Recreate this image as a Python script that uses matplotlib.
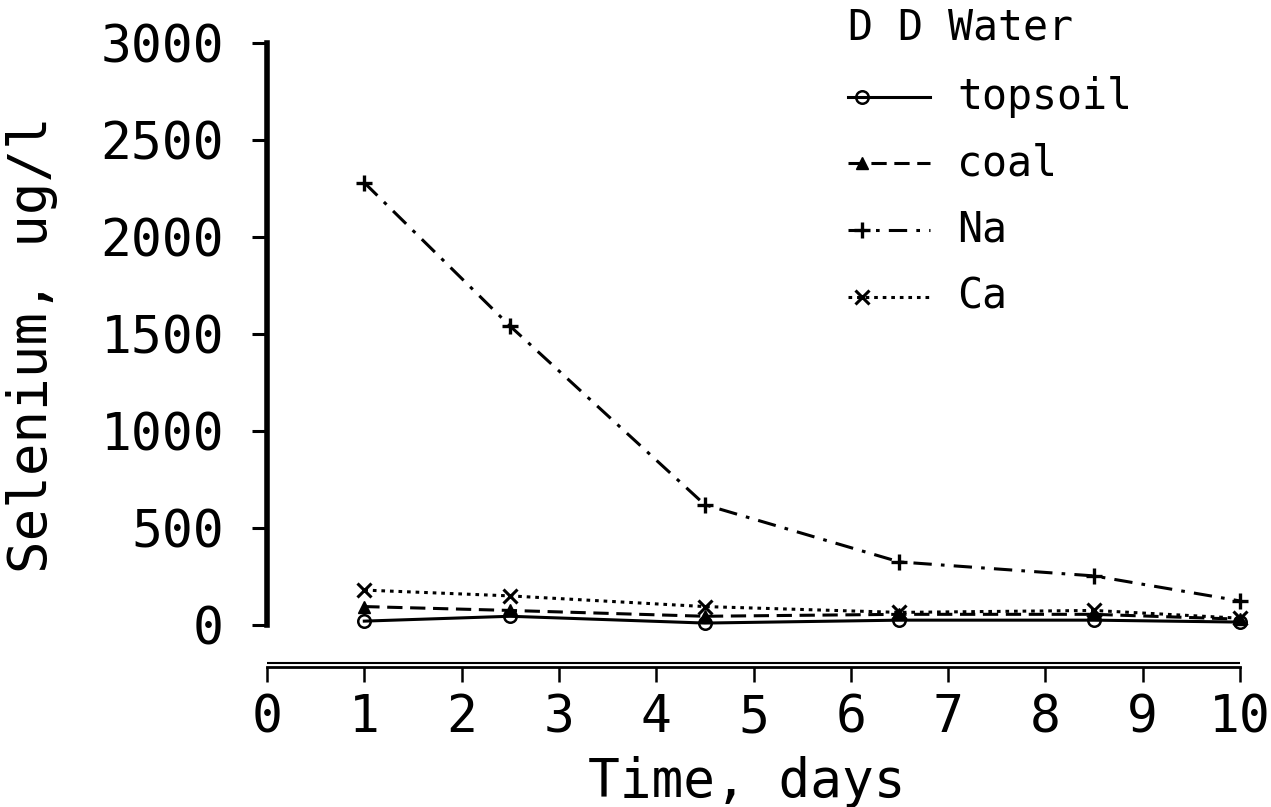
import matplotlib.pyplot as plt
from matplotlib.lines import Line2D

# Selenium leached in distilled water, ug/l
days = [1, 2.5, 4.5, 6.5, 8.5, 10]
topsoil = [20, 45, 10, 25, 25, 15]
coal = [95, 75, 45, 55, 55, 30]
na = [2280, 1540, 620, 325, 253, 124]
ca = [180, 150, 95, 65, 75, 35]

x_ticks = [0, 1, 2, 3, 4, 5, 6, 7, 8, 9, 10]
y_ticks = [0, 500, 1000, 1500, 2000, 2500, 3000]

W, H = 1271, 807
mono = 'DejaVu Sans Mono'

fig = plt.figure(figsize=(W / 100, H / 100), dpi=100)
# axes box in pixel terms: x 267..1240, y 43..667 (0 on y at 625)
ax = fig.add_axes([267 / W, (H - 667) / H, (1240 - 267) / W, (667 - 43) / H])
ax.set_xlim(0, 10)
ax.set_ylim(-216.5, 3000)

series = [
    ('topsoil', topsoil, dict(ls='-', marker='o', mfc='none', ms=9, mew=1.8)),
    ('coal', coal, dict(ls=(0, (5, 2.5)), marker='^', ms=8)),
    ('Na', na, dict(ls=(0, (6, 3, 1.2, 3)), marker='+', ms=12, mew=2.4)),
    ('Ca', ca, dict(ls=(0, (1.2, 1.6)), marker='x', ms=10, mew=2.2)),
]
for name, vals, st in series:
    ax.plot(days, vals, color='black', lw=2.2, clip_on=False, **st)

for s in ['top', 'right']:
    ax.spines[s].set_visible(False)
ax.spines['left'].set_bounds(0, 3000)
ax.spines['left'].set_linewidth(4)
ax.spines['bottom'].set_linewidth(2)
ax.axhline(-196, color='black', lw=1.5)

ax.set_xticks(x_ticks)
ax.set_yticks(y_ticks)
ax.tick_params(axis='x', direction='out', length=11, width=1.8, pad=8,
               labelsize=37)
ax.tick_params(axis='y', direction='out', length=11, width=2.2, pad=20,
               labelsize=37)
for lab in ax.get_xticklabels() + ax.get_yticklabels():
    lab.set_family(mono)

fig.text(747 / W, 1 - 782 / H, 'Time, days', family=mono, fontsize=38,
         ha='center', va='center')
fig.text(32 / W, 1 - 345 / H, 'Selenium, ug/l', family=mono, fontsize=39,
         rotation=90, ha='center', va='center')

# legend, marker drawn at the left end of each sample line
fig.text(848 / W, 1 - 28 / H, 'D D Water', family=mono, fontsize=30,
         ha='left', va='center')
rows = [97, 163, 230, 297]
for (name, vals, st), yp in zip(series, rows):
    yf = 1 - yp / H
    fig.add_artist(Line2D([848 / W, 930 / W], [yf, yf], color='black', lw=2.2,
                          ls=st['ls']))
    mk = {k: v for k, v in st.items() if k != 'ls'}
    fig.add_artist(Line2D([862 / W], [yf], color='black', lw=0, **mk))
    fig.text(957 / W, yf, name, family=mono, fontsize=30, ha='left',
             va='center')

fig.savefig('out.png', dpi=100)
